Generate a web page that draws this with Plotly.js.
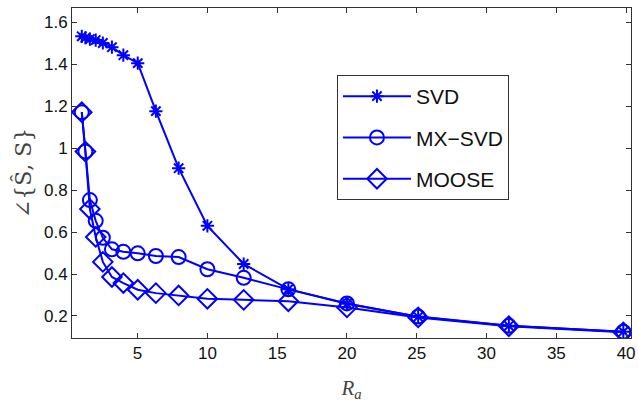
<!DOCTYPE html>
<html>
<head>
<meta charset="utf-8">
<script src="https://cdn.plot.ly/plotly-3.0.1.min.js"></script>
<style>
  html, body { margin: 0; padding: 0; background: #fff; }
  #chart { width: 638px; height: 406px; }
</style>
</head>
<body>
<div id="chart"></div>
<script>
// Data
const Ra = [1, 1.26, 1.58, 2, 2.51, 3.16, 3.98, 5.01, 6.31, 7.94, 10, 12.6, 15.8, 20, 25.1, 31.6, 39.8];
const svd = [1.534, 1.527, 1.521, 1.516, 1.502, 1.482, 1.444, 1.406, 1.177, 0.905, 0.630, 0.448, 0.328, 0.258, 0.196, 0.153, 0.125];
const mxsvd = [1.172, 0.984, 0.753, 0.654, 0.573, 0.518, 0.506, 0.499, 0.486, 0.481, 0.423, 0.382, 0.327, 0.260, 0.197, 0.153, 0.125];
const moose = [1.172, 0.984, 0.710, 0.577, 0.458, 0.386, 0.357, 0.325, 0.309, 0.298, 0.282, 0.277, 0.270, 0.241, 0.193, 0.151, 0.122];
const seriesNames = ["SVD", "MX\u2212SVD", "MOOSE"];
const xTicks = [5, 10, 15, 20, 25, 30, 35, 40];
const yTicks = [0.2, 0.4, 0.6, 0.8, 1, 1.2, 1.4, 1.6];

const blue = "#0000ff";
function tr(y, name, symbol, size) {
  return {
    x: Ra, y: y, name: name, legendgroup: name, type: "scatter", mode: "lines+markers",
    line: { color: blue, width: 2 },
    marker: { symbol: symbol, size: size, color: blue, line: { color: blue, width: 2 } }
  };
}
const data = [
  tr(svd, seriesNames[0], "asterisk-open", 11),
  tr(mxsvd, seriesNames[1], "circle-open", 14),
  tr(moose, seriesNames[2], "diamond-open", 15)
];

const axisCommon = {
  showgrid: false, zeroline: false, showline: true, mirror: "ticks",
  linecolor: "#333", linewidth: 1, ticks: "inside", ticklen: 5, tickcolor: "#333",
  tickfont: { family: "Liberation Sans, Arial, sans-serif", size: 17, color: "#111" }
};

const layout = {
  width: 638, height: 406,
  margin: { l: 72, r: 7, t: 8, b: 68 },
  paper_bgcolor: "#fff", plot_bgcolor: "#fff",
  showlegend: true,
  legend: {
    x: 0.474, y: 0.797, xanchor: "left", yanchor: "top",
    bgcolor: "#fff", bordercolor: "#333", borderwidth: 1,
    itemwidth: 68, tracegroupgap: 11,
    font: { family: "Liberation Sans, Arial, sans-serif", size: 21, color: "#111" }
  },
  xaxis: Object.assign({}, axisCommon, {
    range: [0.3, 40.35], tickvals: xTicks, ticktext: xTicks.map(String),
    title: { text: "<i>R</i><sub><i>a</i></sub>", standoff: 17,
      font: { family: "Liberation Serif, DejaVu Serif, serif", size: 21, color: "#444" } }
  }),
  yaxis: Object.assign({}, axisCommon, {
    range: [0.095, 1.669], tickvals: yTicks, ticktext: yTicks.map(String),
    title: { text: "\u2220{\u015C, S}", standoff: 6,
      font: { family: "DejaVu Serif, Liberation Serif, serif", size: 22, color: "#444" } }
  })
};

Plotly.newPlot("chart", data, layout, { staticPlot: true, displayModeBar: false });
</script>
</body>
</html>
